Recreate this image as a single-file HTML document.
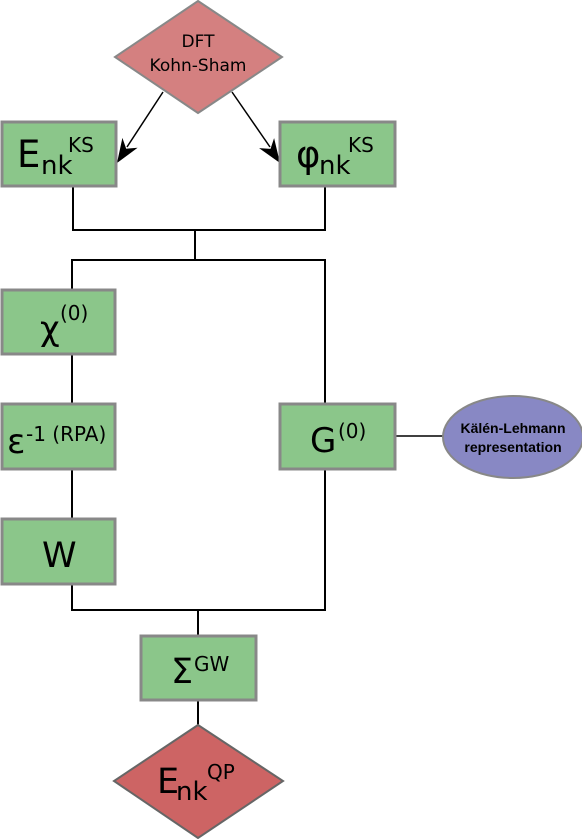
<!DOCTYPE html>
<html><head><meta charset="utf-8"><style>
html,body{margin:0;padding:0;background:#fff;}
svg{display:block;font-family:"DejaVu Sans","Liberation Sans",sans-serif;}
.el{font-family:"Liberation Sans",sans-serif;font-weight:bold;font-size:14px}
</style></head><body>
<svg width="582" height="839" viewBox="0 0 582 839" xmlns="http://www.w3.org/2000/svg">
<g stroke="#000" stroke-width="2" fill="none">
<polyline points="73,186 73,230 325,230 325,186"/>
<line x1="195" y1="230" x2="195" y2="260"/>
<polyline points="72,290 72,260 325,260 325,404"/>
<line x1="72" y1="354" x2="72" y2="404"/>
<line x1="72" y1="469" x2="72" y2="519"/>
<polyline points="72,584 72,610 325,610 325,469"/>
<line x1="198" y1="610" x2="198" y2="636"/>
<line x1="198" y1="700" x2="198" y2="725"/>
<line x1="395" y1="436" x2="444" y2="436" stroke-width="1.5"/>
<line x1="163" y1="92" x2="127" y2="147" stroke-width="1.5"/>
<line x1="232" y1="92" x2="270" y2="147" stroke-width="1.5"/>
</g>
<polygon points="117,163 122.4,137.9 126.2,148.7 137.6,147.7" fill="#000"/>
<polygon points="280,163 259.1,148.1 270.5,148.9 274.1,138.1" fill="#000"/>
<polygon points="198,1 282,57 198,113 115,57" fill="#d48080" stroke="#888" stroke-width="2"/>
<polygon points="198,725 283,781 198,838 114,781" fill="#cd6464" stroke="#666" stroke-width="2"/>
<text x="198" y="47" style="font-size:17px" text-anchor="middle">DFT</text>
<text x="198" y="71" style="font-size:17px" text-anchor="middle">Kohn-Sham</text>
<g fill="#8bc68a" stroke="#888" stroke-width="3">
<rect x="2" y="122" width="114" height="64"/>
<rect x="280" y="122" width="115" height="64"/>
<rect x="2" y="290" width="113" height="64"/>
<rect x="2" y="404" width="113" height="65"/>
<rect x="2" y="519" width="113" height="65"/>
<rect x="280" y="404" width="115" height="65"/>
<rect x="141" y="636" width="115" height="64"/>
</g>
<g style="font-size:37px">
<text x="17" y="167">E</text>
<text x="296" y="167">φ</text>
<text x="40" y="340" style="font-size:34px">χ</text>
<text x="7" y="453" style="font-size:34px">ε</text>
<text x="42" y="567" style="font-size:35px">W</text>
<text x="310" y="452" style="font-size:34px">G</text>
<text x="171" y="683" style="font-size:35px">Σ</text>
<text x="157" y="793" style="font-size:35px">E</text>
</g>
<g style="font-size:26px">
<text x="41" y="174">nk</text>
<text x="319" y="174">nk</text>
<text x="176" y="800">nk</text>
</g>
<g style="font-size:20px">
<text x="68" y="152">KS</text>
<text x="348" y="152">KS</text>
<text x="60" y="320">(0)</text>
<text x="26" y="441">-1 (RPA)</text>
<text x="338" y="438">(0)</text>
<text x="194" y="671">GW</text>
<text x="207" y="779">QP</text>
</g>
<ellipse cx="513" cy="437" rx="70" ry="41" fill="#8888c4" stroke="#888" stroke-width="2"/>
<text x="513" y="433" class="el" text-anchor="middle">Kälén-Lehmann</text>
<text x="513" y="452" class="el" text-anchor="middle">representation</text>
</svg>
</body></html>
